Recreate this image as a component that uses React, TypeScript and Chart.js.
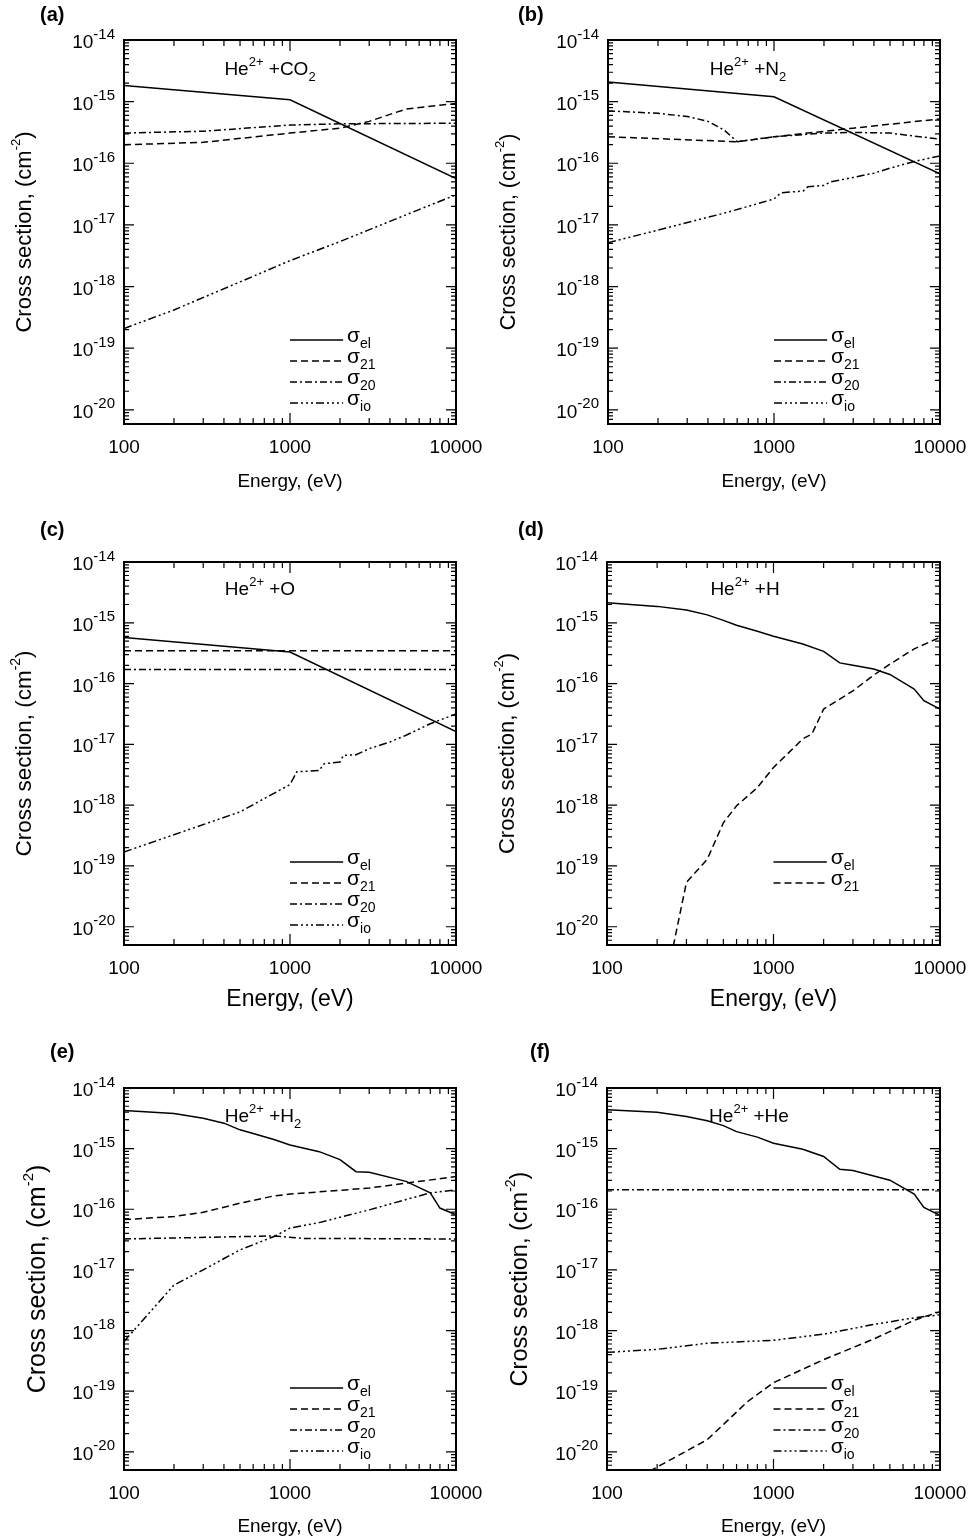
import React, { useEffect, useRef } from 'react';
import { Chart, registerables } from 'chart.js';

Chart.register(...registerables);

// values are log10 of cross section (cm^-2), x = energy (eV)
const aEl = [[100, -14.74], [1000, -14.97], [10000, -16.25]];
const a21 = [[100, -15.7], [300, -15.66], [1000, -15.51], [2000, -15.43], [3000, -15.32], [5000, -15.12], [10000, -15.03]];
const a20 = [[100, -15.51], [300, -15.48], [1000, -15.38], [2000, -15.36], [10000, -15.35]];
const aIo = [[100, -18.68], [200, -18.38], [1000, -17.58], [2000, -17.27], [10000, -16.51]];

const bEl = [[100, -14.68], [1000, -14.92], [10000, -16.17]];
const b21 = [[100, -15.57], [600, -15.65], [1000, -15.57], [3000, -15.43], [10000, -15.28]];
const b20 = [[100, -15.15], [200, -15.19], [300, -15.24], [400, -15.32], [500, -15.46], [600, -15.65], [1000, -15.57], [2000, -15.51], [3000, -15.5], [5000, -15.51], [10000, -15.61]];
const bIo = [[100, -17.29], [500, -16.81], [1000, -16.58], [1100, -16.48], [1500, -16.45], [1600, -16.38], [2000, -16.36], [2200, -16.3], [3000, -16.23], [4000, -16.16], [5000, -16.08], [7000, -15.97], [10000, -15.88]];

const cEl = [[100, -15.24], [1000, -15.48], [10000, -16.79]];
const c21 = [[100, -15.46], [10000, -15.46]];
const c20 = [[100, -15.77], [10000, -15.77]];
const cIo = [[100, -18.77], [500, -18.11], [1000, -17.66], [1100, -17.45], [1500, -17.43], [1600, -17.32], [2000, -17.29], [2100, -17.18], [2500, -17.17], [3000, -17.07], [4000, -16.96], [5000, -16.85], [7000, -16.66], [10000, -16.5]];

const dEl = [[100, -14.67], [200, -14.73], [300, -14.79], [400, -14.87], [500, -14.96], [600, -15.04], [800, -15.14], [1000, -15.22], [1500, -15.35], [2000, -15.47], [2500, -15.66], [3000, -15.7], [4000, -15.76], [5000, -15.85], [7000, -16.09], [8000, -16.28], [10000, -16.42]];
const d21 = [[250, -20.32], [300, -19.27], [400, -18.89], [500, -18.29], [600, -18.01], [800, -17.71], [1000, -17.38], [1500, -16.91], [1700, -16.83], [2000, -16.42], [3000, -16.12], [4000, -15.86], [5000, -15.68], [7000, -15.43], [10000, -15.24]];

const eEl = [[100, -14.37], [200, -14.42], [300, -14.5], [400, -14.58], [500, -14.69], [600, -14.75], [800, -14.85], [1000, -14.94], [1500, -15.05], [2000, -15.18], [2500, -15.38], [3000, -15.39], [5000, -15.54], [7000, -15.73], [8000, -15.98], [10000, -16.09]];
const e21 = [[100, -16.17], [200, -16.12], [300, -16.05], [500, -15.9], [800, -15.78], [1000, -15.75], [3000, -15.65], [10000, -15.46]];
const e20 = [[100, -16.49], [800, -16.44], [1200, -16.48], [10000, -16.49]];
const eIo = [[100, -18.18], [200, -17.25], [300, -17.0], [500, -16.67], [800, -16.45], [1000, -16.31], [1500, -16.22], [3000, -16.01], [5000, -15.84], [7000, -15.73], [10000, -15.68]];

const fEl = [[100, -14.36], [200, -14.4], [300, -14.47], [400, -14.54], [500, -14.62], [600, -14.72], [800, -14.81], [1000, -14.91], [1500, -15.01], [2000, -15.13], [2500, -15.34], [3000, -15.36], [5000, -15.52], [7000, -15.75], [8000, -15.97], [10000, -16.1]];
const f21 = [[180, -20.32], [400, -19.8], [500, -19.55], [700, -19.17], [1000, -18.86], [2000, -18.48], [4000, -18.14], [7000, -17.83], [10000, -17.69]];
const f20 = [[100, -15.68], [10000, -15.68]];
const fIo = [[100, -18.36], [200, -18.31], [400, -18.21], [1000, -18.16], [2000, -18.06], [4000, -17.9], [7000, -17.79], [10000, -17.74]];

const xTicks = [100, 1000, 10000];
const yTickExps = [-20, -19, -18, -17, -16, -15, -14];
const seriesNames = ['el', '21', '20', 'io'];

const FONT = '"Liberation Sans", Arial, Helvetica, sans-serif';
const DASHES = [[], [7, 4], [7, 3, 2, 3], [8, 3, 2, 3, 2, 3, 2, 3]];

type Seg = [string, 'n' | 'sup' | 'sub'];

type Panel = {
  tag: string; title: Seg[]; x0: number; y0: number; h: number;
  l: number; r: number; t: number; b: number; yMin: number;
  xTitle: number; xTitleDy: number; yTitle: number; yTitleDx: number; tagX: number; tagY: number;
  titleX: number; titleY: number; series: (number[][] | null)[];
};

const panels: Panel[] = [
  { tag: '(a)', title: [['He', 'n'], ['2+', 'sup'], [' +CO', 'n'], ['2', 'sub']], x0: 0, y0: 0, h: 515, l: 124, r: 456, t: 40, b: 424, yMin: -20.23, xTitle: 19, xTitleDy: 58, yTitle: 22, yTitleDx: 101, tagX: 40, tagY: 15, titleX: 270, titleY: 68, series: [aEl, a21, a20, aIo] },
  { tag: '(b)', title: [['He', 'n'], ['2+', 'sup'], [' +N', 'n'], ['2', 'sub']], x0: 486, y0: 0, h: 515, l: 608, r: 940, t: 40, b: 424, yMin: -20.23, xTitle: 19, xTitleDy: 58, yTitle: 21.5, yTitleDx: 101, tagX: 518, tagY: 15, titleX: 748, titleY: 68, series: [bEl, b21, b20, bIo] },
  { tag: '(c)', title: [['He', 'n'], ['2+', 'sup'], [' +O', 'n']], x0: 0, y0: 515, h: 515, l: 124, r: 456, t: 562, b: 945, yMin: -20.3, xTitle: 23, xTitleDy: 55, yTitle: 22.5, yTitleDx: 101, tagX: 40, tagY: 530, titleX: 260, titleY: 588, series: [cEl, c21, c20, cIo] },
  { tag: '(d)', title: [['He', 'n'], ['2+', 'sup'], [' +H', 'n']], x0: 486, y0: 515, h: 515, l: 607, r: 940, t: 562, b: 945, yMin: -20.3, xTitle: 23, xTitleDy: 55, yTitle: 22, yTitleDx: 101, tagX: 518, tagY: 530, titleX: 745, titleY: 588, series: [dEl, d21, null, null] },
  { tag: '(e)', title: [['He', 'n'], ['2+', 'sup'], [' +H', 'n'], ['2', 'sub']], x0: 0, y0: 1030, h: 510, l: 124, r: 456, t: 1088, b: 1470, yMin: -20.3, xTitle: 19, xTitleDy: 57, yTitle: 25, yTitleDx: 87, tagX: 50, tagY: 1052, titleX: 263, titleY: 1115, series: [eEl, e21, e20, eIo] },
  { tag: '(f)', title: [['He', 'n'], ['2+', 'sup'], [' +He', 'n']], x0: 486, y0: 1030, h: 510, l: 607, r: 940, t: 1088, b: 1470, yMin: -20.3, xTitle: 19, xTitleDy: 57, yTitle: 23.5, yTitleDx: 88, tagX: 530, tagY: 1052, titleX: 749, titleY: 1115, series: [fEl, f21, f20, fIo] },
];

function drawRich(ctx: CanvasRenderingContext2D, segs: Seg[], x: number, y: number, size: number, align: 'left' | 'center' | 'right', ratio = 0.68) {
  const sz = (k: string) => (k === 'n' ? size : Math.round(size * ratio));
  let w = 0;
  for (const [t, k] of segs) {
    ctx.font = `${sz(k)}px ${FONT}`;
    w += ctx.measureText(t).width;
  }
  let cx = align === 'left' ? x : align === 'center' ? x - w / 2 : x - w;
  ctx.textAlign = 'left';
  ctx.textBaseline = 'alphabetic';
  for (const [t, k] of segs) {
    ctx.font = `${sz(k)}px ${FONT}`;
    const dy = k === 'sup' ? -size * 0.5 : k === 'sub' ? size * 0.3 : 0;
    ctx.fillText(t, cx, y + dy);
    cx += ctx.measureText(t).width;
  }
}

function makeDecor(p: Panel) {
  return {
    id: 'decor',
    afterDatasetsDraw(chart: any) {
      const ctx: CanvasRenderingContext2D = chart.ctx;
      const xs = chart.scales.x, ys = chart.scales.y;
      const { left, right, top, bottom } = chart.chartArea;
      ctx.save();
      ctx.fillStyle = '#000';
      ctx.strokeStyle = '#000';
      ctx.setLineDash([]);
      // ticks (inward, mirrored)
      ctx.lineWidth = 1.2;
      ctx.beginPath();
      for (let d = 100; d < 10000; d *= 10) {
        for (let m = 1; m <= 10; m++) {
          const v = d * m;
          if (v > 10000) break;
          const px = xs.getPixelForValue(v);
          const len = m === 1 || m === 10 ? 11 : 6;
          ctx.moveTo(px, bottom); ctx.lineTo(px, bottom - len);
          ctx.moveTo(px, top); ctx.lineTo(px, top + len);
        }
      }
      for (let e = -21; e <= -15; e++) {
        for (let m = 1; m <= 9; m++) {
          const v = m * Math.pow(10, e);
          const py = ys.getPixelForValue(v);
          if (py > bottom + 0.5 || py < top - 0.5) continue;
          const len = m === 1 ? 10 : 5;
          ctx.moveTo(left, py); ctx.lineTo(left + len, py);
          ctx.moveTo(right, py); ctx.lineTo(right - len, py);
        }
      }
      ctx.stroke();
      // frame
      ctx.lineWidth = 2;
      ctx.strokeRect(left, top, right - left, bottom - top);
      // tick labels
      ctx.font = `19px ${FONT}`;
      ctx.textAlign = 'center';
      ctx.textBaseline = 'middle';
      for (const v of xTicks) ctx.fillText(String(v), xs.getPixelForValue(v), bottom + 24);
      for (const e of yTickExps) {
        drawRich(ctx, [['10', 'n'], [String(e), 'sup']], left - 9, ys.getPixelForValue(Math.pow(10, e)) + 8, 19, 'right', 0.8);
      }
      // axis titles
      ctx.font = `${p.xTitle}px ${FONT}`;
      ctx.textAlign = 'center';
      ctx.textBaseline = 'middle';
      ctx.fillText('Energy, (eV)', (left + right) / 2, bottom + p.xTitleDy);
      ctx.save();
      ctx.translate(left - p.yTitleDx, (top + bottom) / 2);
      ctx.rotate(-Math.PI / 2);
      drawRich(ctx, [['Cross section, (cm', 'n'], ['-2', 'sup'], [')', 'n']], 0, 8, p.yTitle, 'center', 0.6);
      ctx.restore();
      // panel tag and title
      ctx.font = `bold 20px ${FONT}`;
      ctx.textAlign = 'left';
      ctx.textBaseline = 'middle';
      ctx.fillText(p.tag, p.tagX - p.x0, p.tagY - p.y0);
      drawRich(ctx, p.title, p.titleX - p.x0, p.titleY - p.y0 + 7, 19, 'center');
      // legend
      const lx0 = left + 0.5 * (right - left), lx1 = left + 0.66 * (right - left);
      let row = 0;
      chart.data.datasets.forEach((ds: any) => {
        const y = top + 300 + row * 21;
        ctx.lineWidth = 1.5;
        ctx.setLineDash(ds.borderDash);
        ctx.beginPath(); ctx.moveTo(lx0, y); ctx.lineTo(lx1, y); ctx.stroke();
        ctx.setLineDash([]);
        drawRich(ctx, [['σ', 'n'], [ds.label, 'sub']], lx1 + 4, y + 2, 21, 'left');
        row++;
      });
      ctx.restore();
    },
  };
}

function PanelChart({ p }: { p: Panel }) {
  const ref = useRef<HTMLCanvasElement | null>(null);
  useEffect(() => {
    if (!ref.current) return;
    const datasets = p.series
      .map((s, i) => s ? {
        label: seriesNames[i],
        data: s.map(([x, e]) => ({ x, y: Math.pow(10, e) })),
        borderColor: '#000', borderWidth: 1.5, borderDash: DASHES[i],
        pointRadius: 0, tension: 0, fill: false,
      } : null)
      .filter(Boolean) as any[];
    const chart = new Chart(ref.current, {
      type: 'line',
      data: { datasets },
      options: {
        responsive: false, animation: false,
        layout: { padding: { left: p.l - p.x0, right: p.x0 + 486 - p.r, top: p.t - p.y0, bottom: p.y0 + p.h - p.b } },
        plugins: { legend: { display: false }, tooltip: { enabled: false } },
        scales: {
          x: { type: 'logarithmic', min: 100, max: 10000, display: false },
          y: { type: 'logarithmic', min: Math.pow(10, p.yMin), max: 1e-14, display: false },
        },
      },
      plugins: [makeDecor(p)],
    });
    return () => chart.destroy();
  }, [p]);
  return (
    <canvas ref={ref} width={486} height={p.h}
      style={{ position: 'absolute', left: p.x0, top: p.y0, width: 486, height: p.h }} />
  );
}

export default function App() {
  return (
    <div style={{ position: 'absolute', left: 0, top: 0, width: 972, height: 1540, background: '#fff' }}>
      {panels.map(p => <PanelChart key={p.tag} p={p} />)}
    </div>
  );
}
